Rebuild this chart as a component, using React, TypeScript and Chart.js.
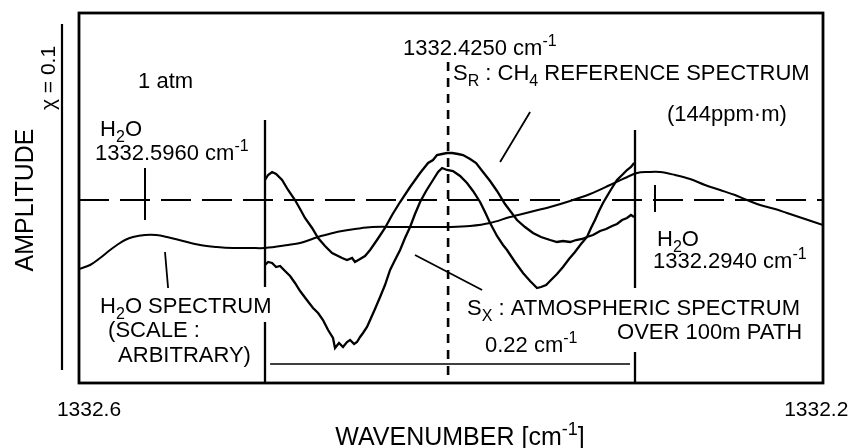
import { useEffect, useRef } from 'react';
import { Chart, registerables } from 'chart.js';

Chart.register(...registerables);

// ---------- axis ranges & tick labels ----------
const xMin = 1332.1963;
const xMax = 1332.6055;
const yMin = 0;
const yMax = 74;
const tickValues = [1332.6, 1332.2];
const tickLabels = ['1332.6', '1332.2'];

// ---------- spectra: [wavenumber (cm^-1), amplitude (arb.)] ----------
const h2oSpectrum: [number, number][] = [
  [1332.6055, 22.8], [1332.5994, 23.6], [1332.5939, 25.0], [1332.5884, 26.6], [1332.5846, 27.6],
  [1332.5802, 28.6], [1332.5758, 29.2], [1332.5692, 29.6], [1332.5631, 29.6], [1332.5571, 29.2],
  [1332.5483, 28.4], [1332.5389, 27.6], [1332.5296, 27.2], [1332.5208, 27.0], [1332.5114, 27.0],
  [1332.5032, 27.0], [1332.4905, 27.6], [1332.4839, 28.0], [1332.474, 29.2], [1332.4658, 30.0],
  [1332.4608, 30.4], [1332.4537, 30.8], [1332.4443, 31.2], [1332.4289, 31.2], [1332.4124, 31.2],
  [1332.4014, 31.2], [1332.3904, 31.4], [1332.3794, 32.0], [1332.3684, 33.2], [1332.3574, 34.2],
  [1332.3464, 35.2], [1332.3354, 36.4], [1332.3244, 37.8], [1332.3134, 39.6], [1332.3052, 41.0],
  [1332.2986, 42.0], [1332.2925, 42.2], [1332.2859, 42.2], [1332.2777, 41.6], [1332.2694, 40.8],
  [1332.2612, 39.6], [1332.2529, 38.6], [1332.2447, 37.6], [1332.2381, 36.6], [1332.2309, 35.6],
  [1332.2227, 34.8], [1332.2161, 34.0], [1332.2062, 32.8], [1332.1963, 31.6],
];

const refSpectrum: [number, number][] = [
  [1332.5032, 40.6], [1332.5015, 41.6], [1332.4993, 42.2], [1332.4971, 41.8], [1332.4938, 40.6],
  [1332.4905, 38.6], [1332.4867, 36.6], [1332.4839, 34.8], [1332.4812, 33.0], [1332.4773, 31.0],
  [1332.474, 29.0], [1332.4702, 27.4], [1332.4663, 26.0], [1332.463, 25.4], [1332.4608, 25.0],
  [1332.4581, 24.6], [1332.4553, 25.0], [1332.4537, 24.2], [1332.4509, 24.8], [1332.4482, 25.4],
  [1332.4454, 26.6], [1332.4416, 28.6], [1332.4372, 31.0], [1332.4333, 33.6], [1332.4289, 36.2],
  [1332.4234, 39.2], [1332.4179, 42.0], [1332.4135, 44.0], [1332.4108, 44.6], [1332.4086, 45.6],
  [1332.4058, 45.8], [1332.4031, 46.0], [1332.4003, 46.0], [1332.397, 45.8], [1332.3943, 45.6],
  [1332.3904, 44.8], [1332.3871, 44.0], [1332.3833, 42.2], [1332.3794, 40.4], [1332.3756, 38.4],
  [1332.3712, 35.8], [1332.3646, 32.6], [1332.3602, 31.2], [1332.3558, 30.0], [1332.3514, 29.2],
  [1332.3464, 28.6], [1332.3426, 28.2], [1332.3393, 28.4], [1332.3354, 28.2], [1332.3321, 28.6],
  [1332.3288, 28.8], [1332.3261, 29.2], [1332.3228, 29.6], [1332.3189, 30.4], [1332.3156, 30.8],
  [1332.3123, 31.4], [1332.3096, 31.8], [1332.3068, 32.6], [1332.3041, 33.0], [1332.3019, 33.6],
  [1332.3002, 33.2],
];

const atmSpectrum: [number, number][] = [
  [1332.5032, 23.6], [1332.5015, 24.2], [1332.4993, 24.0], [1332.4971, 23.2], [1332.4949, 23.4],
  [1332.4922, 22.4], [1332.4894, 21.4], [1332.4867, 20.0], [1332.4839, 18.4], [1332.4806, 16.8],
  [1332.4768, 15.0], [1332.474, 14.0], [1332.4713, 12.6], [1332.4685, 10.6], [1332.4658, 9.0],
  [1332.4647, 7.0], [1332.4625, 8.0], [1332.4603, 7.2], [1332.4581, 8.2], [1332.4564, 8.6],
  [1332.4542, 7.8], [1332.4526, 8.2], [1332.4509, 9.2], [1332.4493, 10.0], [1332.4471, 11.2],
  [1332.4454, 12.6], [1332.4427, 14.8], [1332.4399, 17.2], [1332.4372, 19.6], [1332.4344, 22.6],
  [1332.4317, 24.6], [1332.4289, 26.6], [1332.4262, 29.0], [1332.4234, 31.2], [1332.4207, 33.8],
  [1332.4179, 36.2], [1332.4146, 38.4], [1332.4108, 40.6], [1332.408, 42.2], [1332.4058, 43.0],
  [1332.4031, 42.6], [1332.3998, 42.4], [1332.3959, 41.4], [1332.3921, 40.0], [1332.3888, 38.4],
  [1332.3849, 36.2], [1332.3822, 34.2], [1332.3794, 32.0], [1332.3756, 29.4], [1332.3723, 27.6],
  [1332.3701, 26.6], [1332.3657, 24.2], [1332.3613, 22.0], [1332.3574, 20.4], [1332.3536, 19.0],
  [1332.3514, 19.2], [1332.3486, 19.6], [1332.3459, 20.6], [1332.3426, 21.8], [1332.3393, 23.2],
  [1332.336, 24.8], [1332.3327, 26.2], [1332.3294, 27.8], [1332.3261, 29.2], [1332.3239, 31.0],
  [1332.3217, 32.6], [1332.3195, 34.4], [1332.3173, 36.0], [1332.3134, 38.4], [1332.3096, 40.6],
  [1332.3068, 41.6], [1332.3041, 42.6], [1332.3019, 43.2], [1332.3002, 44.0],
];

// ---------- reference marks ----------
const zeroLevel = 36.6;                 // horizontal dashed line
const centerLine = [1332.4025, 64.2];   // CH4 line centre: [x, top]
// window edges: [x, top, gapTop, gapBottom]
const windowEdges: [number, number, number, number][] = [
  [1332.5032, 52.6, 19.2, 12.2],
  [1332.2997, 50.6, 19.0, 6.2],
];
const spanBar = [1332.5004, 1332.3024, 3.8]; // 0.22 cm^-1 bar: [from, to, y]
// H2O line markers: [x, top, bottom]
const h2oMarks: [number, number, number][] = [
  [1332.5692, 43.0, 32.6],
  [1332.2887, 39.6, 34.2],
];
// leader lines: [x1, y1, x2, y2]
const leaders: [number, number, number, number][] = [
  [1332.3739, 44.2, 1332.3574, 54.2],
  [1332.5582, 26.2, 1332.5565, 19.0],
  [1332.4207, 25.6, 1332.3838, 18.6],
];
const chiBar = [71.8, 2.6]; // amplitude scale bar (chi = 0.1)

// ---------- text labels: [text, x, y, align] ----------
const labels: [string, number, number, string][] = [
  ['1332.4250 cm^{-1}', 1332.4273, 67.2, 'left'],
  ['1 atm', 1332.573, 60.6, 'left'],
  ['H_{2}O', 1332.5939, 51.0, 'left'],
  ['1332.5960 cm^{-1}', 1332.5967, 46.2, 'left'],
  ['S_{R} : CH_{4} REFERENCE SPECTRUM', 1332.3998, 62.2, 'left'],
  ['(144ppm\u00B7m)', 1332.2821, 54.0, 'left'],
  ['H_{2}O', 1332.2876, 29.0, 'left'],
  ['1332.2940 cm^{-1}', 1332.2898, 24.6, 'left'],
  ['H_{2}O SPECTRUM', 1332.5939, 15.6, 'left'],
  ['(SCALE :', 1332.5895, 10.8, 'left'],
  ['ARBITRARY)', 1332.584, 5.8, 'left'],
  ['S_{X} : ATMOSPHERIC SPECTRUM', 1332.3921, 15.2, 'left'],
  ['OVER 100m PATH', 1332.2078, 10.4, 'right'],
  ['0.22 cm^{-1}', 1332.3822, 7.8, 'left'],
];
const xTitle = 'WAVENUMBER [cm^{-1}]';
const yTitle = 'AMPLITUDE';
const chiLabel = '\u03C7 = 0.1';

const FONT = "'Liberation Sans', Arial, Helvetica, sans-serif";

type Part = { t: string; k: 'n' | 'sub' | 'sup'; w?: number };
function parseRich(s: string): Part[] {
  return s
    .split(/(_\{[^}]*\}|\^\{[^}]*\})/)
    .filter((p) => p.length > 0)
    .map((p) => {
      if (p.startsWith('_{')) return { t: p.slice(2, -1), k: 'sub' as const };
      if (p.startsWith('^{')) return { t: p.slice(2, -1), k: 'sup' as const };
      return { t: p, k: 'n' as const };
    });
}

function drawRich(ctx: CanvasRenderingContext2D, s: string, x: number, y: number, size: number, align: string) {
  const parts = parseRich(s);
  let total = 0;
  for (const p of parts) {
    ctx.font = `${p.k === 'n' ? size : Math.round(size * 0.72)}px ${FONT}`;
    p.w = ctx.measureText(p.t).width;
    total += p.w;
  }
  let cx = align === 'right' ? x - total : align === 'center' ? x - total / 2 : x;
  const base = y + size * 0.36;
  ctx.textAlign = 'left';
  ctx.textBaseline = 'alphabetic';
  for (const p of parts) {
    ctx.font = `${p.k === 'n' ? size : Math.round(size * 0.72)}px ${FONT}`;
    const dy = p.k === 'sub' ? size * 0.28 : p.k === 'sup' ? -size * 0.42 : 0;
    ctx.fillText(p.t, cx, base + dy);
    cx += p.w || 0;
  }
}

const seg = (pts: (number | null)[][]) => pts.map(([x, y]) => ({ x: x as number, y }));

export default function App() {
  const ref = useRef<HTMLCanvasElement | null>(null);

  useEffect(() => {
    document.body.style.margin = '0';
    const canvas = ref.current;
    if (!canvas) return;

    const line = (data: any[], extra: any = {}) => ({
      data,
      borderColor: '#000',
      borderWidth: 2,
      pointRadius: 0,
      fill: false,
      tension: 0,
      spanGaps: false,
      ...extra,
    });

    const edgeData: any[] = [];
    windowEdges.forEach(([x, top, g1, g2]) => {
      edgeData.push({ x, y: top }, { x, y: g1 }, { x, y: null }, { x, y: g2 }, { x, y: yMin }, { x, y: null });
    });
    const markData: any[] = [];
    h2oMarks.forEach(([x, t, b]) => markData.push({ x, y: t }, { x, y: b }, { x, y: null }));
    const leaderData: any[] = [];
    leaders.forEach(([x1, y1, x2, y2]) => leaderData.push({ x: x1, y: y1 }, { x: x2, y: y2 }, { x: x2, y: null }));

    const textPlugin = {
      id: 'figureText',
      afterDatasetsDraw(chart: any) {
        const { ctx, chartArea, scales } = chart;
        const xs = scales.x;
        const ys = scales.y;
        ctx.save();
        ctx.fillStyle = '#000';
        ctx.strokeStyle = '#000';
        // frame
        ctx.lineWidth = 2.8;
        ctx.strokeRect(chartArea.left, chartArea.top, chartArea.right - chartArea.left, chartArea.bottom - chartArea.top);
        // chi scale bar
        ctx.lineWidth = 2.2;
        ctx.beginPath();
        const bx = chartArea.left - 17;
        ctx.moveTo(bx, ys.getPixelForValue(chiBar[0]));
        ctx.lineTo(bx, ys.getPixelForValue(chiBar[1]));
        ctx.stroke();
        // labels inside the plot
        for (const [t, x, y, a] of labels) {
          drawRich(ctx, t, xs.getPixelForValue(x), ys.getPixelForValue(y), 22, a);
        }
        // x tick labels
        tickValues.forEach((v, i) => {
          drawRich(ctx, tickLabels[i], xs.getPixelForValue(v), chartArea.bottom + 25, 21, 'center');
        });
        // x title
        drawRich(ctx, xTitle, (chartArea.left + chartArea.right) / 2 + 9, chartArea.bottom + 53, 25, 'center');
        // y title (rotated)
        ctx.save();
        ctx.translate(24, (chartArea.top + chartArea.bottom) / 2 + 2);
        ctx.rotate(-Math.PI / 2);
        drawRich(ctx, yTitle, 0, 0, 25, 'center');
        ctx.restore();
        // chi label (rotated)
        ctx.save();
        ctx.translate(47, chartArea.top + 65);
        ctx.rotate(-Math.PI / 2);
        drawRich(ctx, chiLabel, 0, 0, 21, 'center');
        ctx.restore();
        ctx.restore();
      },
    };

    const chart = new Chart(canvas, {
      type: 'line',
      data: {
        datasets: [
          line(seg(h2oSpectrum), { tension: 0.35, borderWidth: 2 }),
          line(seg(refSpectrum), { borderWidth: 2.3 }),
          line(seg(atmSpectrum), { borderWidth: 2.3 }),
          line(seg([[xMax, zeroLevel], [xMin, zeroLevel]]), { borderDash: [30, 11] }),
          line(seg([[centerLine[0], centerLine[1]], [centerLine[0], yMin]]), { borderDash: [9, 7], borderWidth: 2.6 }),
          line(edgeData, { borderWidth: 2.3 }),
          line(seg([[spanBar[0], spanBar[2]], [spanBar[1], spanBar[2]]]), { borderWidth: 1.6 }),
          line(markData),
          line(leaderData, { borderWidth: 1.8 }),
        ],
      },
      options: {
        animation: false,
        responsive: false,
        maintainAspectRatio: false,
        devicePixelRatio: 1,
        parsing: true,
        layout: { padding: { left: 79, top: 13, right: 28, bottom: 65 } },
        plugins: { legend: { display: false }, tooltip: { enabled: false } },
        scales: {
          x: { type: 'linear', reverse: true, min: xMin, max: xMax, display: false },
          y: { type: 'linear', min: yMin, max: yMax, display: false },
        },
      },
      plugins: [textPlugin],
    } as any);

    return () => chart.destroy();
  }, []);

  return <canvas ref={ref} width={851} height={448} style={{ display: 'block' }} />;
}
